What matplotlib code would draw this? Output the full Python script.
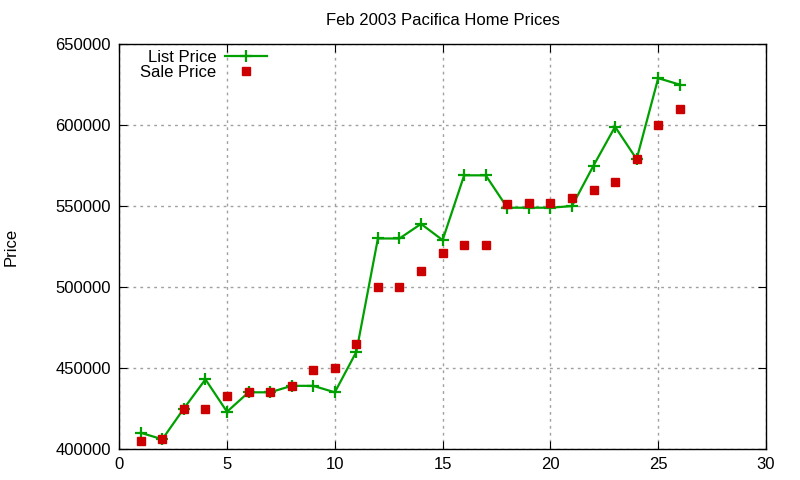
import matplotlib
matplotlib.use('Agg')
import matplotlib.pyplot as plt

plt.rcParams['font.family'] = ['Liberation Sans', 'DejaVu Sans']

# listing number, list price, sale price
house = list(range(1, 27))
list_price = [410000, 406000, 425000, 443000, 423000, 435000, 435000, 439000, 439000,
              435000, 460000, 530000, 530000, 539000, 529000, 569000, 569000, 549000,
              549000, 549000, 550000, 575000, 599000, 579000, 629000, 625000]
sale_price = [405000, 406000, 425000, 425000, 432500, 435000, 435000, 439000, 448500,
              450000, 465000, 500000, 500000, 510000, 521000, 526000, 526000, 551000,
              552000, 552000, 555000, 560000, 565000, 579000, 600000, 610000]

fig = plt.figure(figsize=(8, 4.8), dpi=100)
ax = fig.add_axes([0.149, 0.0646, 0.8085, 0.8434])

ax.plot(house, list_price, color='#00a000', lw=1.6, marker='+', ms=9, mew=1.6,
        label='List Price')
ax.plot(house, sale_price, ls='none', color='#cc0000', marker='s', ms=6,
        label='Sale Price')

ax.set_xlim(0, 30)
ax.set_ylim(400000, 650000)
ax.set_xticks(range(0, 31, 5))
ax.set_yticks(range(400000, 650001, 50000))
ax.tick_params(direction='in', length=6, top=True, right=True, labelsize=12, pad=6)
ax.grid(True, color='#a0a0a0', ls=(0, (2, 3)), lw=1)
for s in ax.spines.values():
    s.set_linewidth(1)

ax.set_title('Feb 2003 Pacifica Home Prices', fontsize=12, pad=14)
ax.set_ylabel('Price', fontsize=12)
ax.yaxis.set_label_coords(-0.155, 0.5)

leg = ax.legend(loc='upper right', bbox_to_anchor=(0.2287, 0.986), markerfirst=False,
                frameon=False, fontsize=12, handlelength=2.5, handletextpad=0.55,
                labelspacing=0.0, borderpad=0, borderaxespad=0)

fig.savefig('out.png', dpi=100)
